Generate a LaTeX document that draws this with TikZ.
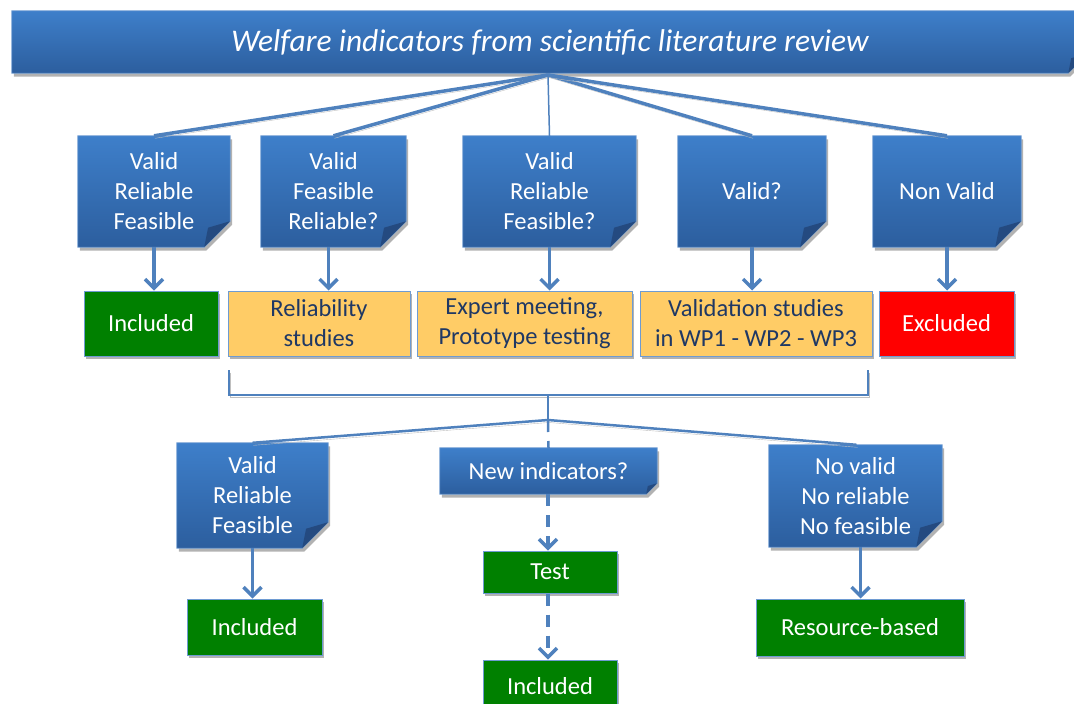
\documentclass[tikz,border=0pt]{standalone}
\usepackage{fontspec}
\setmainfont{Carlito}
\usetikzlibrary{arrows.meta,shadows,backgrounds}

\definecolor{linkblue}{RGB}{79,129,189}
\definecolor{boxtop}{RGB}{62,127,202}
\definecolor{boxbot}{RGB}{44,94,158}
\definecolor{boxedge}{RGB}{110,155,210}
\definecolor{folddark}{RGB}{36,74,128}
\definecolor{sandfill}{RGB}{255,204,102}
\definecolor{navytext}{RGB}{31,56,100}
\definecolor{leafgreen}{RGB}{0,128,0}

\tikzset{
  every node/.style={font=\fontsize{24.5}{30}\selectfont, align=center, inner sep=0pt},
  notebox/.style={text=white},
  flatbox/.style={draw=boxedge, line width=1pt,
    drop shadow={shadow xshift=1.5pt, shadow yshift=-3pt, fill=black!30, opacity=1}},
  greenbox/.style={flatbox, fill=leafgreen, text=white},
  sandbox/.style={flatbox, fill=sandfill, text=navytext},
  redbox/.style={flatbox, fill=red, text=white},
  link/.style={draw=linkblue, line width=3pt},
  shadowed/.style={preaction={draw=black!25, transform canvas={shift={(1pt,-2.5pt)}}}},
  flow/.style={draw=linkblue, line width=3.5pt, -{Straight Barb[length=9pt,width=18pt]}},
  dashflow/.style={flow, dash pattern=on 12pt off 9pt},
}

\begin{document}
\begin{tikzpicture}[x=1pt, y=-1pt]
  \useasboundingbox (0,0) rectangle (1074,704);

  % title banner
  \node[notebox, minimum width=1076pt, minimum height=62pt,
    font=\fontsize{31.5}{36}\selectfont\itshape] (title) at (550,42)
    {Welfare indicators from scientific literature review};

  % first level
  \node[notebox, minimum width=152pt, minimum height=111pt] (v1) at (154,191.5) {Valid\\Reliable\\Feasible};
  \node[notebox, minimum width=145pt, minimum height=111pt] (v2) at (333.5,191.5) {Valid\\Feasible\\Reliable?};
  \node[notebox, minimum width=173pt, minimum height=111pt] (v3) at (549.5,191.5) {Valid\\Reliable\\Feasible?};
  \node[notebox, minimum width=148pt, minimum height=111pt] (v4) at (752,191.5) {Valid?};
  \node[notebox, minimum width=148pt, minimum height=111pt] (v5) at (947,191.5) {Non Valid};

  \node[greenbox, minimum width=134pt, minimum height=65pt] (inc1) at (151,323.5) {Included};
  \node[sandbox, minimum width=182pt, minimum height=65pt] (rel) at (319,323.5) {Reliability\\studies};
  \node[sandbox, minimum width=215pt, minimum height=65pt] (exp) at (524.5,323.5) {Expert meeting,\\Prototype testing};
  \node[sandbox, minimum width=232pt, minimum height=65pt] (val) at (756,323.5) {Validation studies\\in WP1 - WP2 - WP3};
  \node[redbox, minimum width=135pt, minimum height=65pt] (exc) at (946.5,323.5) {Excluded};

  % second level
  \node[notebox, minimum width=151pt, minimum height=105pt] (b1) at (252.5,495.5) {Valid\\Reliable\\Feasible};
  \node[notebox, minimum width=217pt, minimum height=46pt] (new) at (548.5,471) {New indicators?};
  \node[notebox, minimum width=173pt, minimum height=102pt] (b3) at (855.5,496) {No valid\\No reliable\\No feasible};

  \node[greenbox, minimum width=135pt, minimum height=56pt] (inc2) at (254.5,627) {Included};
  \node[greenbox, minimum width=134pt, minimum height=42pt] (test) at (550,572) {Test};
  \node[greenbox, minimum width=134pt, minimum height=52pt] (inc3) at (550,686) {Included};
  \node[greenbox, minimum width=208pt, minimum height=57pt] (res) at (860,627.5) {Resource-based};

  % folded note shapes behind the text
  \begin{scope}[on background layer]
    \foreach \n/\f in {title/20,v1/26,v2/26,v3/26,v4/26,v5/26,b1/26,new/11,b3/26} {
      \shadedraw[top color=boxtop, bottom color=boxbot, draw=boxedge, line width=0.8pt,
        drop shadow={shadow xshift=2pt, shadow yshift=-3.5pt, fill=black!30, opacity=1}]
        (\n.north west) -- (\n.north east) -- ([yshift=\f pt]\n.south east)
        -- ([xshift=-\f pt]\n.south east) -- (\n.south west) -- cycle;
      \fill[folddark] ([yshift=\f pt]\n.south east) -- ([xshift=-\f pt]\n.south east)
        -- ([shift={({-0.85*\f*1pt},{0.75*\f*1pt})}]\n.south east) -- cycle;
    }
  \end{scope}

  % fan from the title
  \coordinate (hub1) at (548,75);
  \foreach \n in {v1,v2,v4,v5}
    \draw[link, line width=3.5pt, shadowed] (hub1) -- (\n.north);
  \draw[link, line width=1.5pt] (hub1) -- (v3.north);

  \draw[flow] (v1.south) -- (v1.south |- inc1.north);
  \draw[flow] ([xshift=-5pt]v2.south) -- ([xshift=-5pt]v2.south |- rel.north);
  \draw[flow] (v3.south) -- (v3.south |- exp.north);
  \draw[flow] (v4.south) -- (v4.south |- val.north);
  \draw[flow] (v5.south) -- (v5.south |- exc.north);

  % bracket
  \coordinate (brL) at (229,370);
  \coordinate (brR) at (868,370);
  \coordinate (brM) at (548,395);
  \coordinate (hub2) at (548,420);
  \draw[link, line width=2.5pt, shadowed] (brL) |- (brM) -| (brR);
  \draw[link, line width=2pt] (brM) -- (hub2);

  % second fan
  \draw[link, line width=2.5pt, shadowed] (hub2) -- (b1.north);
  \draw[link, line width=2.5pt, shadowed] (hub2) -- ([xshift=1pt]b3.north);
  \draw[link, line width=2.5pt, dash pattern=on 12pt off 9pt] (hub2) -- (new.north);

  \draw[flow] (b1.south) -- (b1.south |- inc2.north);
  \draw[flow] ([xshift=5pt]b3.south) -- ([xshift=5pt]b3.south |- res.north);
  \draw[dashflow] ([xshift=-0.5pt]new.south) -- ([xshift=-2pt]test.north);
  \draw[dashflow] ([xshift=-2pt]test.south) -- ([xshift=-2pt]inc3.north);
\end{tikzpicture}
\end{document}
